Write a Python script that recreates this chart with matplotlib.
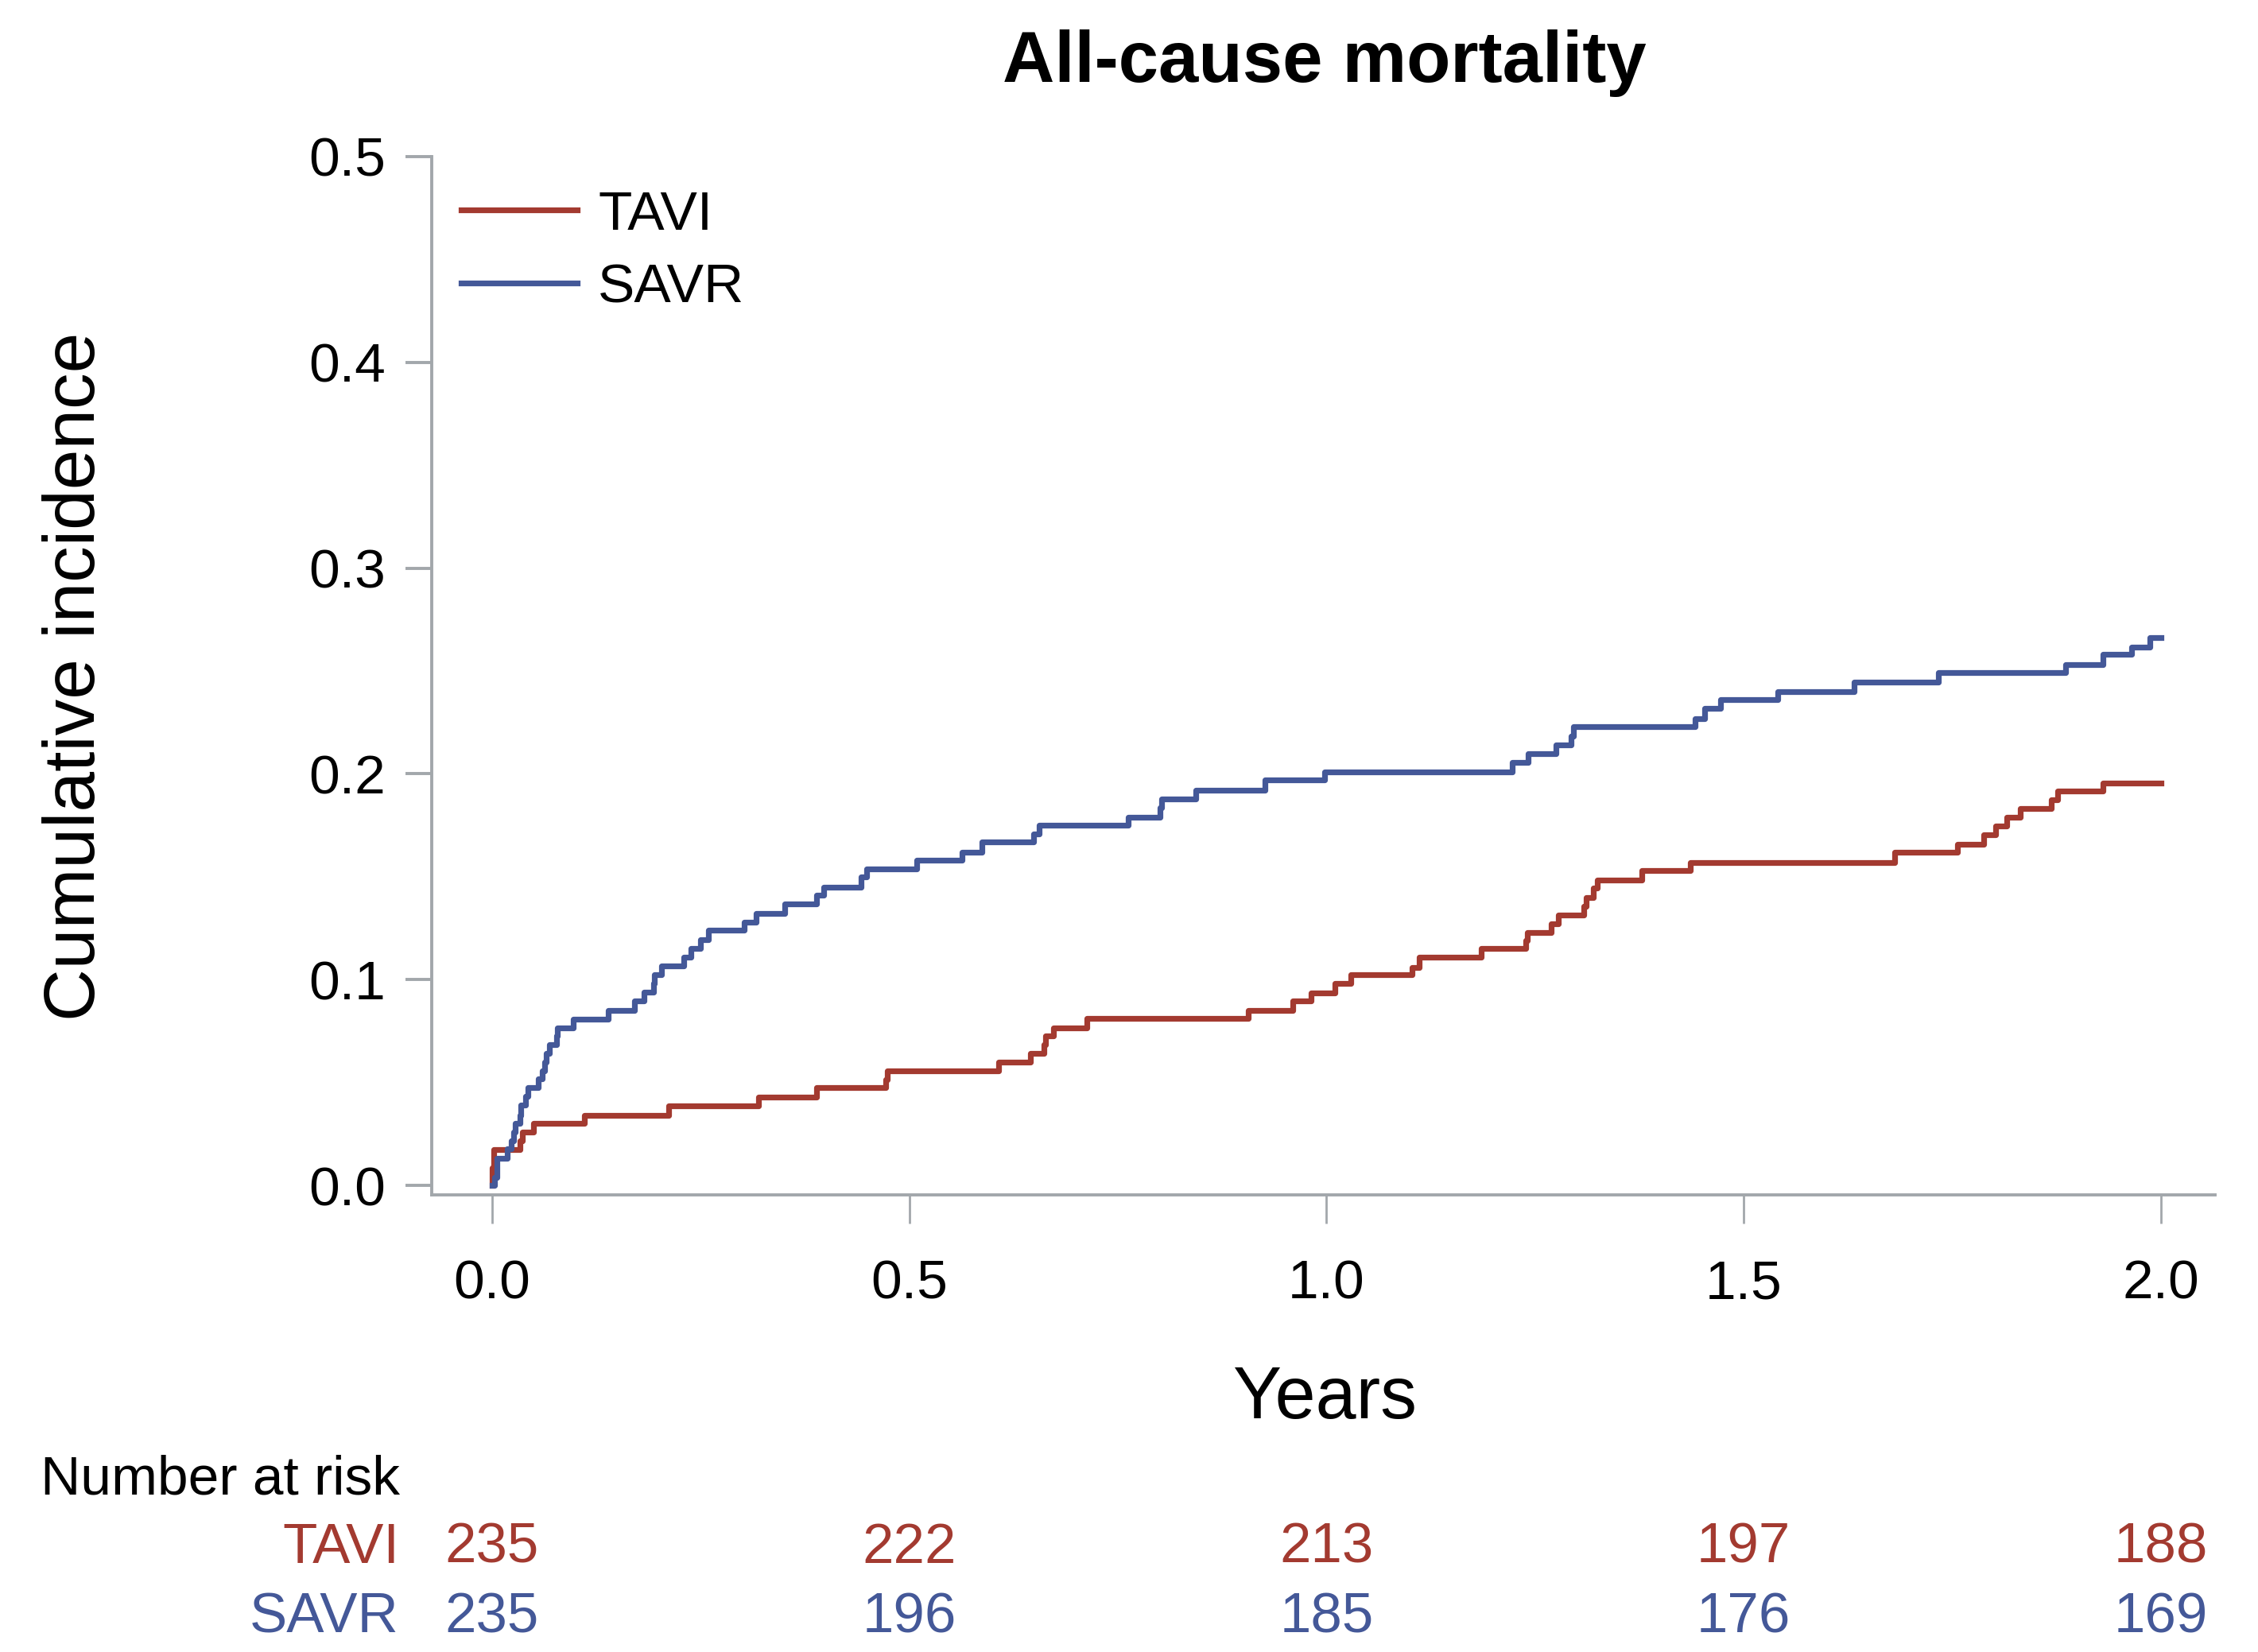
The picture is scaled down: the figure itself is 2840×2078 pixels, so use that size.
import matplotlib
matplotlib.use("Agg")
import matplotlib.pyplot as plt
import matplotlib.transforms as mtransforms

# Kaplan-Meier style cumulative incidence (step after each time)
tavi_time = [0.0, 0.0, 0.002, 0.033, 0.036, 0.050, 0.111, 0.212, 0.319, 0.389,
             0.472, 0.474, 0.607, 0.645, 0.661, 0.663, 0.673, 0.713, 0.906, 0.960,
             0.982, 1.010, 1.029, 1.103, 1.111, 1.185, 1.239, 1.241, 1.269, 1.278,
             1.308, 1.311, 1.320, 1.325, 1.378, 1.436, 1.681, 1.756, 1.788, 1.802,
             1.815, 1.832, 1.869, 1.876, 1.931, 2.0]
tavi_cuminc = [0.0, 0.0085, 0.0175, 0.0216, 0.026, 0.030, 0.034, 0.0386, 0.043, 0.0475,
               0.0515, 0.0556, 0.0598, 0.064, 0.0683, 0.0725, 0.0766, 0.081, 0.085, 0.0896,
               0.0937, 0.098, 0.1023, 0.106, 0.1108, 0.115, 0.119, 0.123, 0.1272, 0.1313,
               0.1356, 0.1398, 0.1444, 0.1485, 0.1529, 0.157, 0.1618, 0.1658, 0.1703, 0.1745,
               0.1788, 0.183, 0.1873, 0.1915, 0.1954, 0.1954]

savr_time = [0.0, 0.003, 0.006, 0.018, 0.023, 0.026, 0.028, 0.033, 0.034, 0.040,
             0.043, 0.055, 0.060, 0.063, 0.065, 0.069, 0.077, 0.078, 0.097, 0.139,
             0.171, 0.182, 0.193, 0.194, 0.203, 0.230, 0.238, 0.250, 0.259, 0.302,
             0.316, 0.351, 0.389, 0.397, 0.442, 0.449, 0.509, 0.563, 0.587, 0.649,
             0.656, 0.762, 0.800, 0.802, 0.843, 0.926, 0.998, 1.223, 1.242, 1.275,
             1.293, 1.296, 1.442, 1.453, 1.472, 1.541, 1.632, 1.733, 1.886, 1.931,
             1.965, 1.987, 2.0]
savr_cuminc = [0.0, 0.004, 0.013, 0.0178, 0.0216, 0.026, 0.030, 0.034, 0.039, 0.0432,
               0.0475, 0.0517, 0.0556, 0.0598, 0.064, 0.0683, 0.0725, 0.0766, 0.0807, 0.085,
               0.0896, 0.0938, 0.098, 0.1023, 0.1066, 0.111, 0.115, 0.1195, 0.124, 0.128,
               0.132, 0.137, 0.141, 0.145, 0.150, 0.154, 0.158, 0.162, 0.167, 0.171,
               0.175, 0.179, 0.1835, 0.188, 0.192, 0.197, 0.201, 0.2054, 0.210, 0.214,
               0.2185, 0.2228, 0.227, 0.2317, 0.236, 0.240, 0.2448, 0.2494, 0.2533, 0.258,
               0.2618, 0.2664, 0.2664]

risk_times = [0.0, 0.5, 1.0, 1.5, 2.0]
tavi_risk = [235, 222, 213, 197, 188]
savr_risk = [235, 196, 185, 176, 169]

red = "#A33A30"
blue = "#445898"
grey = "#A2A7AB"

plt.rcParams["font.family"] = ["Liberation Sans", "DejaVu Sans"]

W, H = 2840, 2078
fig = plt.figure(figsize=(W / 200, H / 200), dpi=200)
ax = fig.add_axes([543 / W, 1 - 1503 / H, (2786 - 543) / W, (1503 - 197) / H])

ax.step(tavi_time, tavi_cuminc, where="post", color=red, lw=2.6, label="TAVI")
ax.step(savr_time, savr_cuminc, where="post", color=blue, lw=2.6, label="SAVR")

ax.set_xlim(-0.0724, 2.065)
ax.set_ylim(-0.0046, 0.5)
ax.set_xticks(risk_times)
ax.set_xticklabels([f"{t:.1f}" for t in risk_times])
ax.set_yticks([0.0, 0.1, 0.2, 0.3, 0.4, 0.5])
ax.set_yticklabels(["0.0", "0.1", "0.2", "0.3", "0.4", "0.5"])

for side in ["top", "right"]:
    ax.spines[side].set_visible(False)
for side in ["left", "bottom"]:
    ax.spines[side].set_color(grey)
    ax.spines[side].set_linewidth(1.4)
ax.tick_params(axis="y", length=12, width=1.4, color=grey, pad=9, labelsize=25)
ax.tick_params(axis="x", length=13, width=1.0, color=grey, pad=16, labelsize=25)

ax.legend(loc="upper left", bbox_to_anchor=(0.0165, 0.968), frameon=False, fontsize=25,
          handlelength=2.1, handletextpad=0.38, labelspacing=0.4,
          borderaxespad=0.0, borderpad=0.0)

fig.text(1666 / W, 1 - 79 / H, "All-cause mortality", ha="center", va="center",
         fontsize=32.6, fontweight="bold")
fig.text(96 / W, 1 - 851 / H, "Cumulative incidence", ha="center", va="center",
         rotation=90, fontsize=32.8)
fig.text(1666 / W, 1 - 1760 / H, "Years", ha="center", va="center", fontsize=33)

# number at risk table
fig.text(51 / W, 1 - 1861 / H, "Number at risk", ha="left", va="center", fontsize=25)
trans = mtransforms.blended_transform_factory(ax.transData, fig.transFigure)
for label, counts, color, ypix in [("TAVI", tavi_risk, red, 1948), ("SAVR", savr_risk, blue, 2035)]:
    fig.text(502 / W, 1 - ypix / H, label, ha="right", va="center", fontsize=25.5, color=color)
    for t, n in zip(risk_times, counts):
        ax.text(t, 1 - ypix / H, str(n), transform=trans, ha="center", va="center",
                fontsize=25.5, color=color, clip_on=False)

fig.savefig("out.png", dpi=200)
